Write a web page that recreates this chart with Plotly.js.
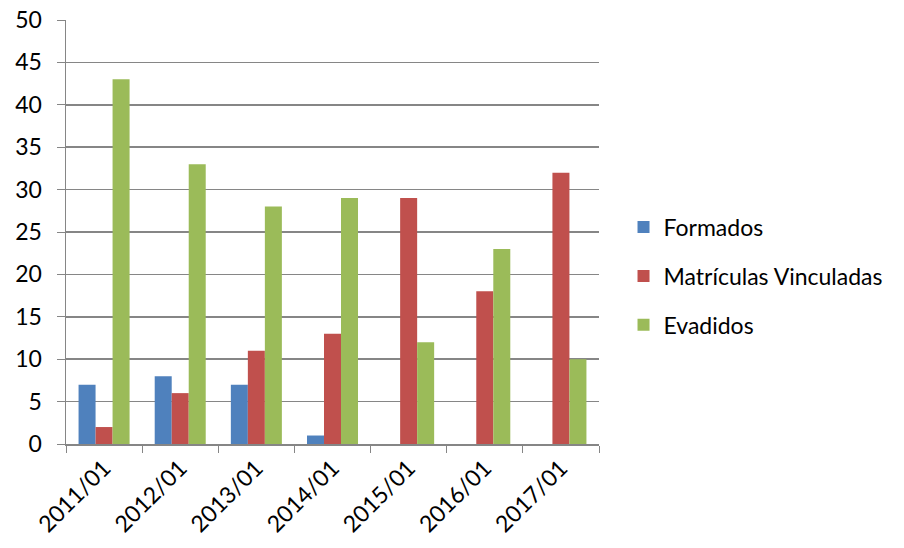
<!DOCTYPE html>
<html>
<head>
<meta charset="utf-8">
<script src="https://cdn.plot.ly/plotly-3.0.1.min.js"></script>
<style>html,body{margin:0;padding:0;background:#fff;}#chart{width:904px;height:548px;}</style>
</head>
<body>
<div id="chart"></div>
<script>
var categories = ["2011/01", "2012/01", "2013/01", "2014/01", "2015/01", "2016/01", "2017/01"];
var formados = [7, 8, 7, 1, 0, 0, 0];
var matriculas = [2, 6, 11, 13, 29, 18, 32];
var evadidos = [43, 33, 28, 29, 12, 23, 10];
var seriesNames = ["Formados", "Matrículas Vinculadas", "Evadidos"];
var yTicks = [0, 5, 10, 15, 20, 25, 30, 35, 40, 45, 50];

var colors = ["#4F81BD", "#C0504D", "#9BBB59"];
var values = [formados, matriculas, evadidos];
var data = values.map(function (v, i) {
  return {
    type: "bar",
    x: categories,
    y: v,
    name: seriesNames[i],
    legendgroup: "g" + i,
    marker: { color: colors[i] }
  };
});

var fontFam = "Lato, 'Open Sans', sans-serif";
var layout = {
  width: 904,
  height: 548,
  margin: { l: 66, r: 305, t: 20, b: 104 },
  paper_bgcolor: "#ffffff",
  plot_bgcolor: "#ffffff",
  barmode: "group",
  bargap: 0.33,
  bargroupgap: 0,
  font: { family: fontFam, size: 23, color: "#000000" },
  xaxis: {
    type: "category",
    tickangle: -45,
    tickson: "boundaries",
    ticks: "outside",
    ticklen: 7,
    tickcolor: "#868686",
    showgrid: false,
    showline: true,
    linecolor: "#868686",
    linewidth: 1.5,
    tickfont: { family: fontFam, size: 23, color: "#000" }
  },
  yaxis: {
    range: [0, 50],
    tickvals: yTicks,
    ticktext: yTicks.map(String),
    ticks: "outside",
    ticklen: 8,
    tickcolor: "#868686",
    ticklabelstandoff: 10,
    showgrid: true,
    gridcolor: "#868686",
    gridwidth: 1.5,
    showline: true,
    linecolor: "#868686",
    linewidth: 1.5,
    zeroline: false,
    tickfont: { family: fontFam, size: 23, color: "#000" }
  },
  showlegend: true,
  legend: {
    x: 1.046,
    xanchor: "left",
    y: 0.396,
    yanchor: "middle",
    tracegroupgap: 16,
    traceorder: "grouped",
    font: { family: fontFam, size: 23, color: "#000" }
  }
};

Plotly.newPlot("chart", data, layout, { displayModeBar: false, staticPlot: true });
</script>
</body>
</html>
